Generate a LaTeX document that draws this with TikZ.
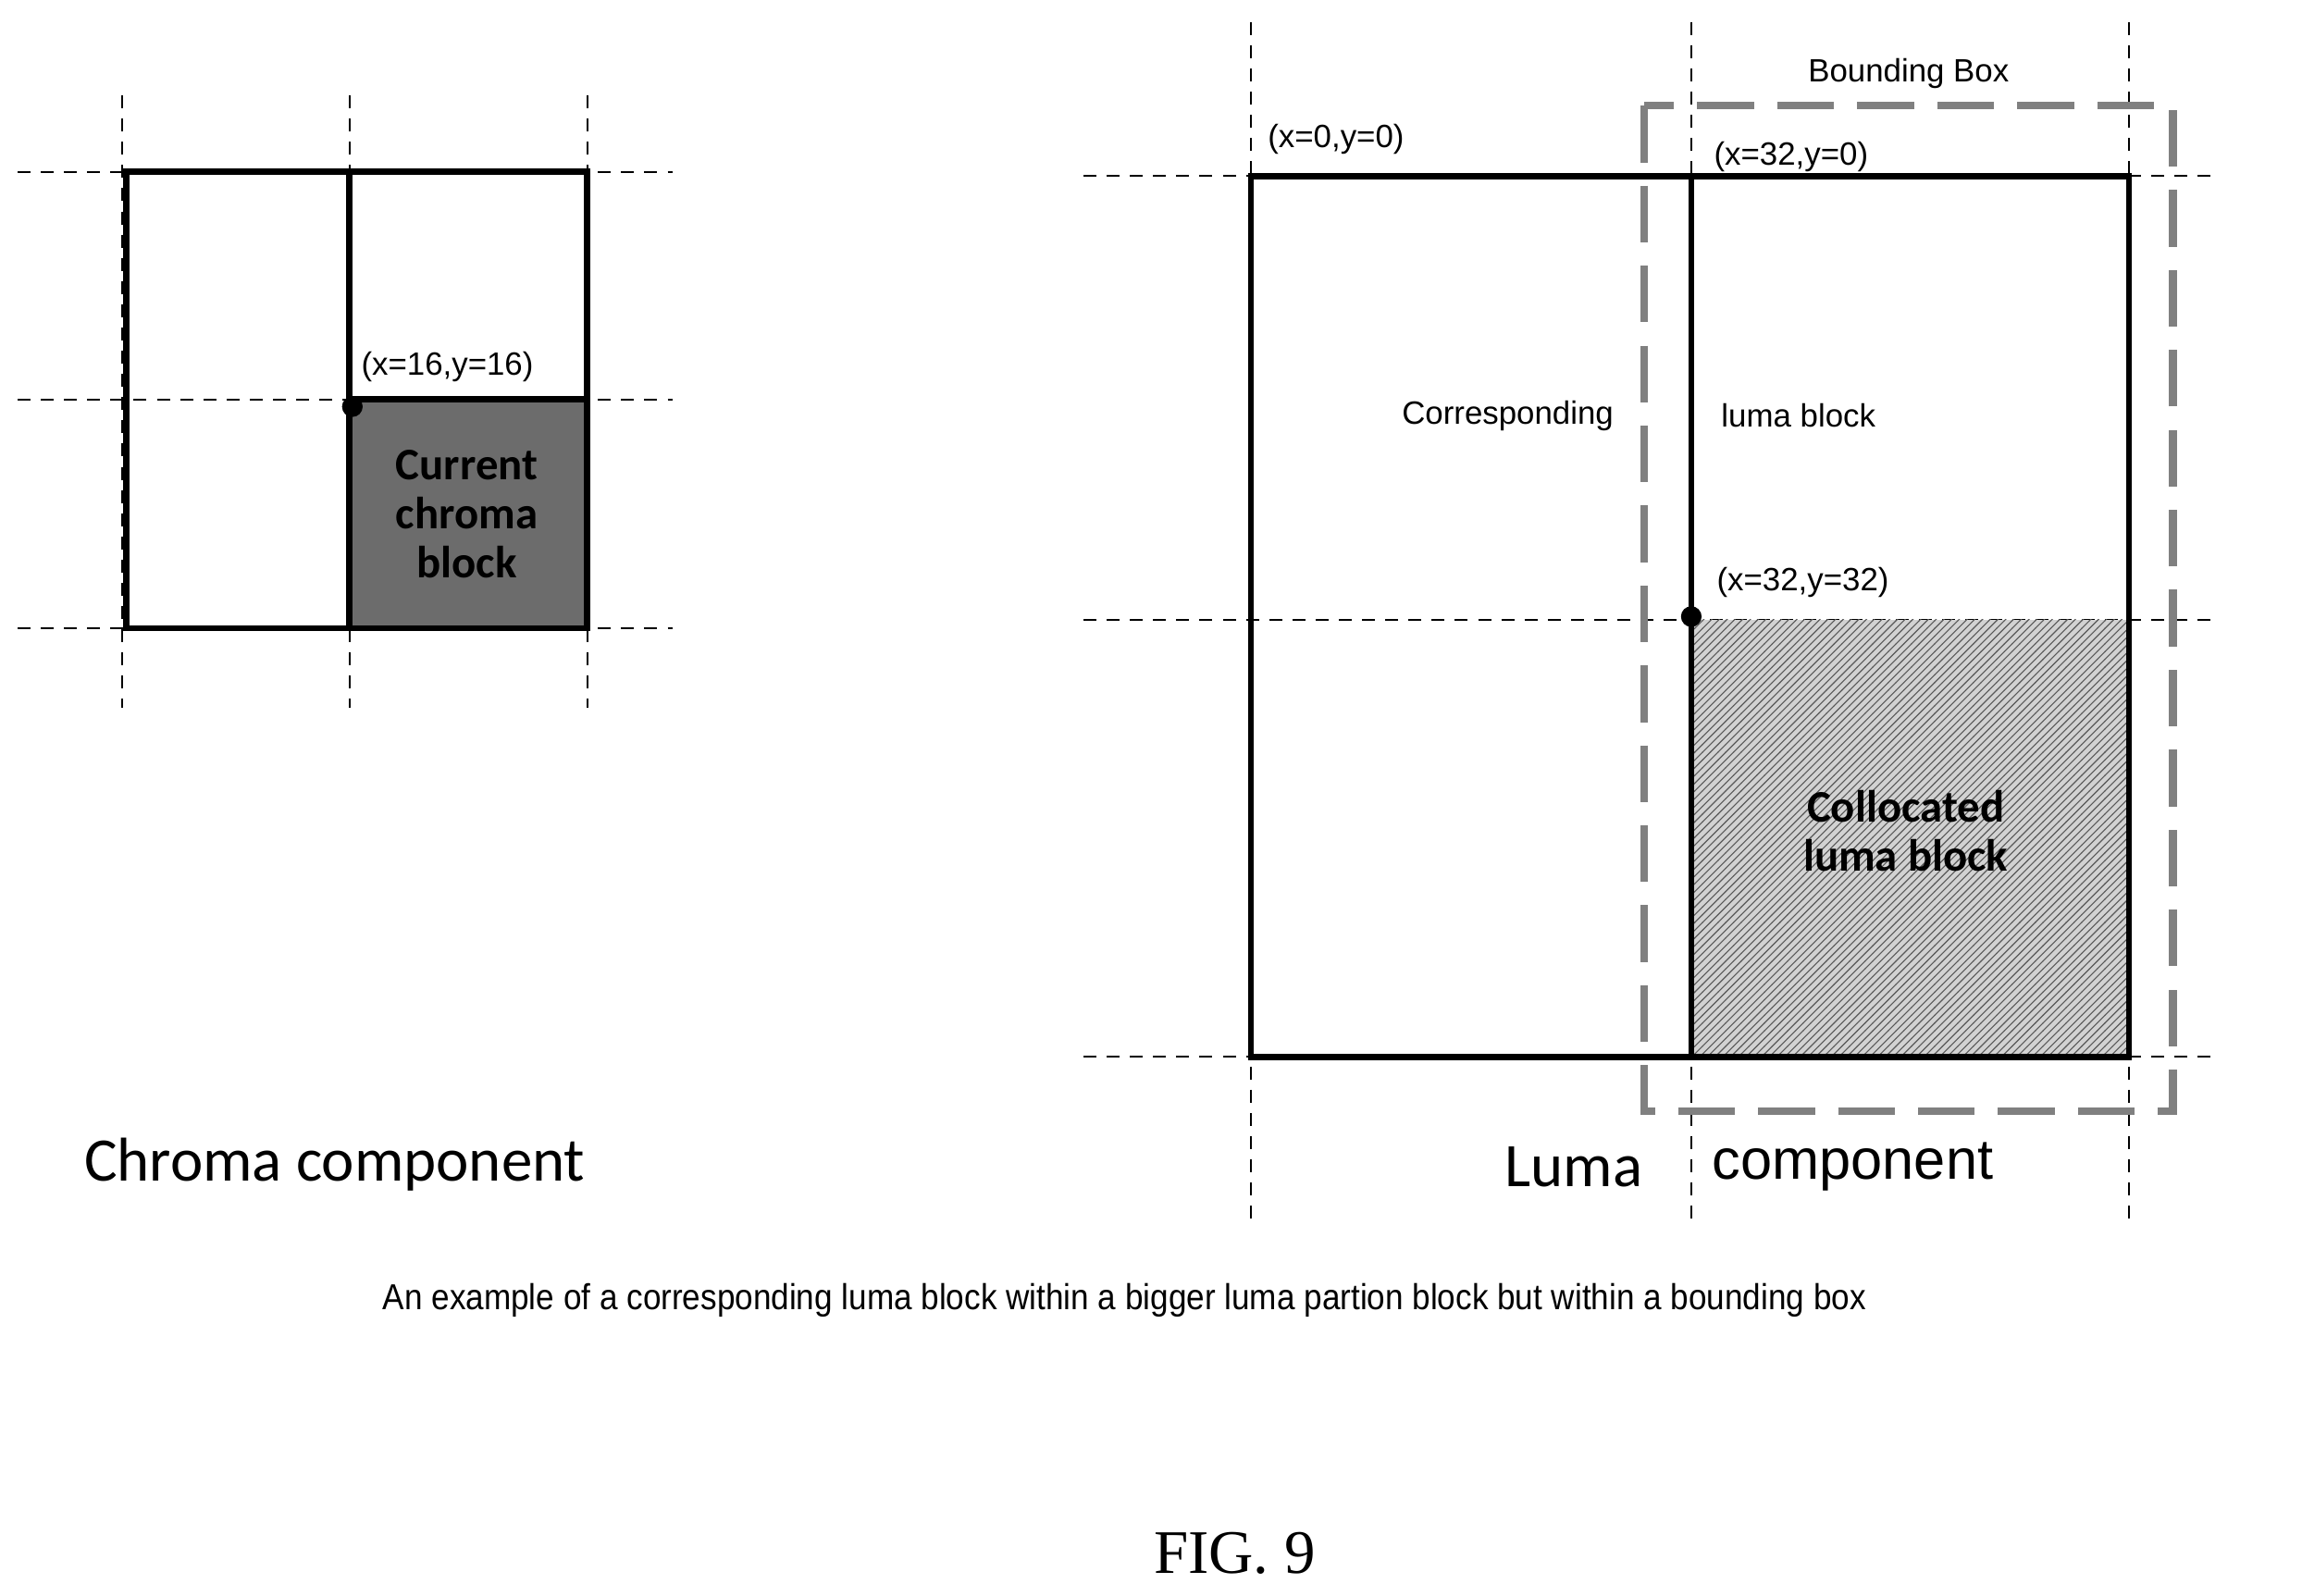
\documentclass[tikz,border=0pt]{standalone}
\usepackage{fontspec}
\setmainfont{Liberation Sans}
\newfontfamily\calfont{Carlito}
\newfontfamily\figfont{Liberation Serif}
\usetikzlibrary{patterns}
\begin{document}
\begin{tikzpicture}
[   x=0.02cm,y=-0.02cm,
    grid/.style={dashed,line width=0.7pt,dash pattern=on 5pt off 4pt},
    blk/.style={line width=2.3pt},
    lbl/.style={font=\fontsize{12.5}{15}\selectfont,inner sep=1pt},
    bold/.style={font=\calfont\bfseries\fontsize{17.5}{21}\selectfont,align=center},
    title/.style={font=\calfont\fontsize{24}{28}\selectfont},
    dot/.style={circle,fill=black,inner sep=0pt,minimum size=8pt},
]
    \useasboundingbox (0,0) rectangle (1568,1087);
    % chroma grid
    \foreach \x in {83,238,400}
        \draw[grid] (\x,65) -- (\x,482);
    \foreach \y in {117,272,428}
        \draw[grid] (12,\y) -- (458,\y);
    \fill[gray!85!black] (238,272) rectangle (400,428);
    \draw[blk] (86,117) rectangle (400,428);
    \draw[blk] (238,117) -- (238,428);
    \draw[blk] (238,272) -- (400,272);
    \node[dot] (c16) at (240,277) {};
    \node[lbl,anchor=south west] (c16l) at (244,262) {(x=16,y=16)};
    \node[bold] (cur) at (318,350) {Current\\[-2pt]chroma\\[-2pt]block};
    \node[title] (chroma) at (228,793) {Chroma component};
    % luma grid
    \foreach \x in {852,1152,1450}
        \draw[grid] (\x,15) -- (\x,835);
    \foreach \y in {120,422,720}
        \draw[grid] (738,\y) -- (1510,\y);
    \fill[gray!35] (1152,422) rectangle (1450,720);
    \fill[pattern=north east lines,pattern color=gray!70!black] (1152,422) rectangle (1450,720);
    \draw[blk] (852,120) rectangle (1450,720);
    \draw[blk] (1152,120) -- (1152,720);
    \draw[blk] (1152,720) -- (1450,720);
    \draw[gray,line width=3pt,dash pattern=on 22pt off 9pt] (1120,72) rectangle (1480,757);
    \node[dot] (l32) at (1152,420) {};
    \node[lbl] (bbox) at (1300,50) {Bounding Box};
    \node[lbl] (l00) at (910,95) {(x=0,y=0)};
    \node[lbl] (l320) at (1220,107) {(x=32,y=0)};
    \node[lbl] (corr) at (1027,283) {Corresponding};
    \node[lbl] (luma) at (1225,283) {luma block};
    \node[lbl] (l3232) at (1228,397) {(x=32,y=32)};
    \node[bold] (col) at (1298,566) {Collocated\\[-2pt]luma block};
    \node[title] (lumat) at (1072,795) {Luma};
    \node[font=\fontsize{22}{26}\selectfont] (comp) at (1262,795) {component};
    \node[font=\fontsize{14}{17}\selectfont,xscale=0.9] (cap) at (766,886)
        {An example of a corresponding luma block within a bigger luma partion block but within a bounding box};
    \node[font=\figfont\fontsize{24}{28}\selectfont] (fig) at (841,1058) {FIG. 9};
\end{tikzpicture}
\end{document}
